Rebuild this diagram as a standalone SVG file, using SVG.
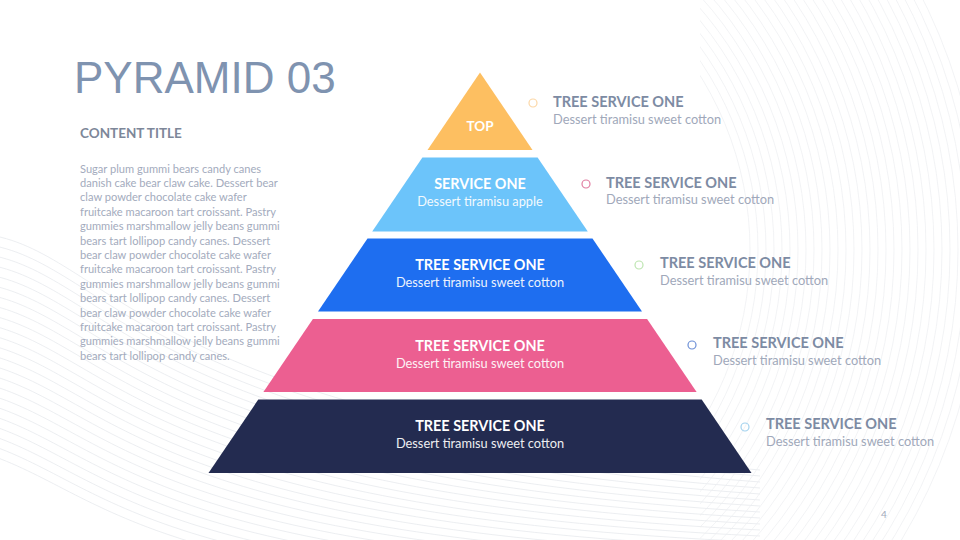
<svg xmlns="http://www.w3.org/2000/svg" width="960" height="540" viewBox="0 0 960 540">
<defs>
<style>
.bg{fill:none;stroke:#E4E6EB;stroke-width:0.7}
.bg2{fill:none;stroke:#ECEEF1;stroke-width:0.7}
.ttl{font-family:'Liberation Sans',Arial,sans-serif;font-size:44px;fill:#7F93B0}
.ct{font-family:Lato,'Open Sans',sans-serif;font-weight:bold;font-size:13.5px;fill:#7D8799}
.body{font-family:Lato,'Open Sans',sans-serif;font-size:11.1px;fill:#A3ABBD}
.in-h{font-family:Lato,'Open Sans',sans-serif;font-weight:bold;font-size:14.4px;fill:#FFFFFF;text-anchor:middle}
.in-s{font-family:Lato,'Open Sans',sans-serif;font-size:12.8px;fill:#FFFFFF;text-anchor:middle;opacity:0.92}
.lb-h{font-family:Lato,'Open Sans',sans-serif;font-weight:bold;font-size:14.5px;fill:#7D8BA3}
.lb-s{font-family:Lato,'Open Sans',sans-serif;font-size:12.8px;fill:#A0A8BA}
.dot{fill:none;stroke-width:1.2}
.pg{font-family:Lato,'Open Sans',sans-serif;font-size:10px;fill:#A0A8BA}
</style>
<clipPath id="rightclip"><rect x="700" y="0" width="260" height="540"/></clipPath>
</defs>
<rect width="960" height="540" fill="#FFFFFF"/>
<g id="background">
<g id="waves-left">
<path class="bg" d="M-10,235 C110,255 150,420 760,470"/>
<path class="bg" d="M-10,245 C110,266 150,428 760,476"/>
<path class="bg" d="M-10,255 C110,277 150,436 760,482"/>
<path class="bg" d="M-10,265 C110,288 150,444 760,488"/>
<path class="bg" d="M-10,275 C110,299 150,452 760,494"/>
<path class="bg" d="M-10,285 C110,310 150,460 760,500"/>
<path class="bg" d="M-10,295 C110,321 150,468 760,506"/>
<path class="bg" d="M-10,305 C110,332 150,476 760,512"/>
<path class="bg" d="M-10,315 C110,343 150,484 760,518"/>
<path class="bg" d="M-10,325 C110,354 150,492 760,524"/>
<path class="bg" d="M-10,335 C110,365 150,500 760,530"/>
<path class="bg" d="M-10,345 C110,376 150,508 760,536"/>
<path class="bg" d="M-10,355 C110,387 150,516 760,542"/>
<path class="bg" d="M-10,365 C110,398 150,524 760,548"/>
<path class="bg" d="M-10,375 C110,409 150,532 760,554"/>
<path class="bg" d="M-10,385 C110,420 150,540 760,560"/>
<path class="bg" d="M-10,395 C110,431 150,548 760,566"/>
<path class="bg" d="M-10,405 C110,442 150,556 760,572"/>
<path class="bg" d="M-10,415 C110,453 150,564 760,578"/>
<path class="bg" d="M-10,425 C110,464 150,572 760,584"/>
<path class="bg" d="M-10,435 C110,475 150,580 760,590"/>
<path class="bg" d="M-10,445 C110,486 150,588 760,596"/>
<path class="bg" d="M-10,455 C110,497 150,596 760,602"/>
</g>
<g id="arcs-right" clip-path="url(#rightclip)">
<circle class="bg2" cx="420" cy="250" r="330"/>
<circle class="bg2" cx="420" cy="250" r="338"/>
<circle class="bg2" cx="420" cy="250" r="346"/>
<circle class="bg2" cx="420" cy="250" r="354"/>
<circle class="bg2" cx="420" cy="250" r="362"/>
<circle class="bg2" cx="420" cy="250" r="370"/>
<circle class="bg2" cx="420" cy="250" r="378"/>
<circle class="bg2" cx="420" cy="250" r="386"/>
<circle class="bg2" cx="420" cy="250" r="394"/>
<circle class="bg2" cx="420" cy="250" r="402"/>
<circle class="bg2" cx="420" cy="250" r="410"/>
<circle class="bg2" cx="420" cy="250" r="418"/>
<circle class="bg2" cx="420" cy="250" r="426"/>
<circle class="bg2" cx="420" cy="250" r="434"/>
<circle class="bg2" cx="420" cy="250" r="442"/>
<circle class="bg2" cx="420" cy="250" r="450"/>
<circle class="bg2" cx="420" cy="250" r="458"/>
<circle class="bg2" cx="420" cy="250" r="466"/>
<circle class="bg2" cx="420" cy="250" r="474"/>
<circle class="bg2" cx="420" cy="250" r="482"/>
<circle class="bg2" cx="420" cy="250" r="490"/>
<circle class="bg2" cx="420" cy="250" r="498"/>
<circle class="bg2" cx="420" cy="250" r="506"/>
<circle class="bg2" cx="420" cy="250" r="514"/>
<circle class="bg2" cx="420" cy="250" r="522"/>
<circle class="bg2" cx="420" cy="250" r="530"/>
<circle class="bg2" cx="420" cy="250" r="538"/>
<circle class="bg2" cx="420" cy="250" r="546"/>
<circle class="bg2" cx="420" cy="250" r="554"/>
<circle class="bg2" cx="420" cy="250" r="562"/>
</g>
</g>
<g id="title">
<text class="ttl" x="74" y="93">PYRAMID 03</text>
</g>
<g id="content">
<text class="ct" x="80" y="138">CONTENT TITLE</text>
<text class="body" x="80">
<tspan x="80" y="172.5">Sugar plum gummi bears candy canes</tspan>
<tspan x="80" y="186.9">danish cake bear claw cake. Dessert bear</tspan>
<tspan x="80" y="201.3">claw powder chocolate cake wafer</tspan>
<tspan x="80" y="215.7">fruitcake macaroon tart croissant. Pastry</tspan>
<tspan x="80" y="230.1">gummies marshmallow jelly beans gummi</tspan>
<tspan x="80" y="244.5">bears tart lollipop candy canes. Dessert</tspan>
<tspan x="80" y="258.9">bear claw powder chocolate cake wafer</tspan>
<tspan x="80" y="273.3">fruitcake macaroon tart croissant. Pastry</tspan>
<tspan x="80" y="287.7">gummies marshmallow jelly beans gummi</tspan>
<tspan x="80" y="302.1">bears tart lollipop candy canes. Dessert</tspan>
<tspan x="80" y="316.5">bear claw powder chocolate cake wafer</tspan>
<tspan x="80" y="330.9">fruitcake macaroon tart croissant. Pastry</tspan>
<tspan x="80" y="345.3">gummies marshmallow jelly beans gummi</tspan>
<tspan x="80" y="359.7">bears tart lollipop candy canes.</tspan>
</text>
</g>
<g id="connectors"></g>
<g id="level1">
<polygon points="480,72.5 532.5,150 427.5,150" fill="#FDBF61"/>
<text class="in-h" x="480" y="131" style="font-size:13.5px">TOP</text>
</g>
<g id="level2">
<polygon points="422.4,157.5 537.6,157.5 587.8,231.5 372.2,231.5" fill="#6CC4FA"/>
<text class="in-h" x="480" y="189">SERVICE ONE</text>
<text class="in-s" x="480" y="206">Dessert tiramisu apple</text>
</g>
<g id="level3">
<polygon points="367.5,238.5 592.5,238.5 642,311.5 318,311.5" fill="#1E6EF0"/>
<text class="in-h" x="480" y="270">TREE SERVICE ONE</text>
<text class="in-s" x="480" y="287">Dessert tiramisu sweet cotton</text>
</g>
<g id="level4">
<polygon points="312.9,319 647.1,319 696.6,392 263.4,392" fill="#EC5F91"/>
<text class="in-h" x="480" y="351">TREE SERVICE ONE</text>
<text class="in-s" x="480" y="368">Dessert tiramisu sweet cotton</text>
</g>
<g id="level5">
<polygon points="258.3,399.5 701.7,399.5 751.5,473 208.5,473" fill="#232B50"/>
<text class="in-h" x="480" y="431">TREE SERVICE ONE</text>
<text class="in-s" x="480" y="448">Dessert tiramisu sweet cotton</text>
</g>
<g id="label1">
<circle class="dot" cx="533" cy="103" r="4" stroke="#FCD7A6"/>
<text class="lb-h" x="553" y="107">TREE SERVICE ONE</text>
<text class="lb-s" x="553" y="124">Dessert tiramisu sweet cotton</text>
</g>
<g id="label2">
<circle class="dot" cx="586" cy="184" r="4" stroke="#E07CA0"/>
<text class="lb-h" x="606" y="188">TREE SERVICE ONE</text>
<text class="lb-s" x="606" y="204">Dessert tiramisu sweet cotton</text>
</g>
<g id="label3">
<circle class="dot" cx="639" cy="265" r="4" stroke="#BDE5B0"/>
<text class="lb-h" x="660" y="268">TREE SERVICE ONE</text>
<text class="lb-s" x="660" y="285">Dessert tiramisu sweet cotton</text>
</g>
<g id="label4">
<circle class="dot" cx="692" cy="345" r="4" stroke="#6C8FD6"/>
<text class="lb-h" x="713" y="348">TREE SERVICE ONE</text>
<text class="lb-s" x="713" y="365">Dessert tiramisu sweet cotton</text>
</g>
<g id="label5">
<circle class="dot" cx="745" cy="427" r="4" stroke="#A3D2EE"/>
<text class="lb-h" x="766" y="429">TREE SERVICE ONE</text>
<text class="lb-s" x="766" y="446">Dessert tiramisu sweet cotton</text>
</g>
<g id="page-number">
<text class="pg" x="881" y="518">4</text>
</g>
</svg>
